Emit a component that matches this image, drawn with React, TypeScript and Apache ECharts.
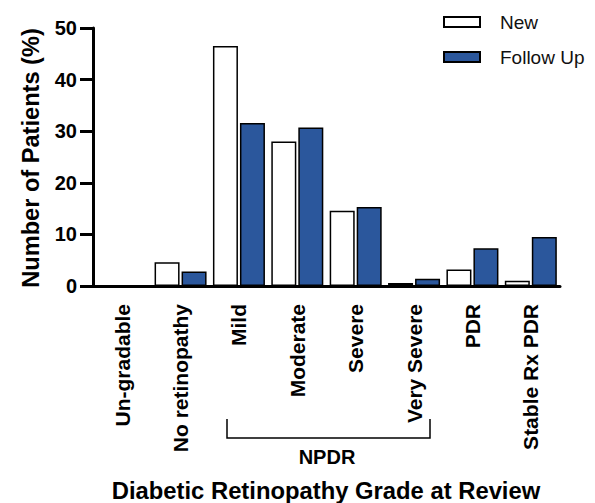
import React, { useEffect, useRef } from "react";
import * as echarts from "echarts";

const categories = [
  "Un-gradable",
  "No retinopathy",
  "Mild",
  "Moderate",
  "Severe",
  "Very Severe",
  "PDR",
  "Stable Rx PDR",
];
const newValues = [0, 4.6, 46.5, 28.0, 14.6, 0.6, 3.2, 1.0];
const followUpValues = [0, 2.8, 31.6, 30.7, 15.3, 1.4, 7.3, 9.5];
const yTicks = [0, 10, 20, 30, 40, 50];

const FONT = "'Liberation Sans', Arial, Helvetica, sans-serif";
const BLUE = "#2b579c";

export default function App() {
  const ref = useRef<HTMLDivElement>(null);
  useEffect(() => {
    if (!ref.current) return;
    const chart = echarts.init(ref.current, undefined, { renderer: "svg" });
    chart.setOption({
      animation: false,
      backgroundColor: "#ffffff",
      textStyle: { fontFamily: FONT },
      grid: { left: 93, right: 35, top: 28, bottom: 217, containLabel: false },
      legend: {
        orient: "vertical",
        left: 438,
        top: 7,
        itemWidth: 36,
        itemHeight: 10,
        itemGap: 15,
        icon: "rect",
        selectedMode: false,
        textStyle: {
          fontFamily: FONT,
          fontSize: 19,
          color: "#111",
          lineHeight: 20,
          padding: [0, 0, 0, 15],
        },
        data: ["New", "Follow Up"],
      },
      xAxis: {
        type: "category",
        data: categories,
        boundaryGap: true,
        axisLine: { lineStyle: { color: "#000", width: 3 } },
        axisTick: { alignWithLabel: true, length: 13, lineStyle: { color: "#000", width: 3 } },
        axisLabel: {
          rotate: 90,
          margin: 18,
          interval: 0,
          fontFamily: FONT,
          fontWeight: "bold",
          fontSize: 21,
          color: "#000",
        },
      },
      yAxis: {
        type: "value",
        min: 0,
        max: 50,
        interval: 10,
        splitLine: { show: false },
        axisLine: { show: true, lineStyle: { color: "#000", width: 3 } },
        axisTick: { show: true, length: 13, lineStyle: { color: "#000", width: 3 } },
        axisLabel: {
          margin: 16,
          fontFamily: FONT,
          fontWeight: "bold",
          fontSize: 20,
          color: "#000",
          formatter: (v: number) => (yTicks.includes(v) ? String(v) : ""),
        },
      },
      series: [
        {
          name: "New",
          type: "bar",
          data: newValues,
          barWidth: 25,
          barGap: "8%",
          itemStyle: { color: "#ffffff", borderColor: "#000", borderWidth: 1.5 },
        },
        {
          name: "Follow Up",
          type: "bar",
          data: followUpValues,
          barWidth: 25,
          barGap: "8%",
          itemStyle: { color: BLUE, borderColor: "#000", borderWidth: 1.5 },
        },
      ],
      graphic: [
        {
          type: "text",
          x: 31,
          y: 158,
          rotation: Math.PI / 2,
          style: {
            text: "Number of Patients (%)",
            fontFamily: FONT,
            fontWeight: "bold",
            fontSize: 23.6,
            fill: "#000",
            align: "center",
            verticalAlign: "middle",
          },
        },
        {
          type: "polyline",
          shape: { points: [[227, 419], [227, 438], [430, 438], [430, 419]] },
          style: { stroke: "#000", lineWidth: 1.5, fill: "none" },
        },
        {
          type: "text",
          x: 327,
          y: 457,
          style: {
            text: "NPDR",
            fontFamily: FONT,
            fontWeight: "bold",
            fontSize: 20,
            fill: "#000",
            align: "center",
            verticalAlign: "middle",
          },
        },
        {
          type: "text",
          x: 326,
          y: 490,
          style: {
            text: "Diabetic Retinopathy Grade at Review",
            fontFamily: FONT,
            fontWeight: "bold",
            fontSize: 23.8,
            fill: "#000",
            align: "center",
            verticalAlign: "middle",
          },
        },
      ],
    });
    return () => chart.dispose();
  }, []);
  return <div ref={ref} style={{ width: 595, height: 503, position: "absolute", left: 0, top: 0 }} />;
}
